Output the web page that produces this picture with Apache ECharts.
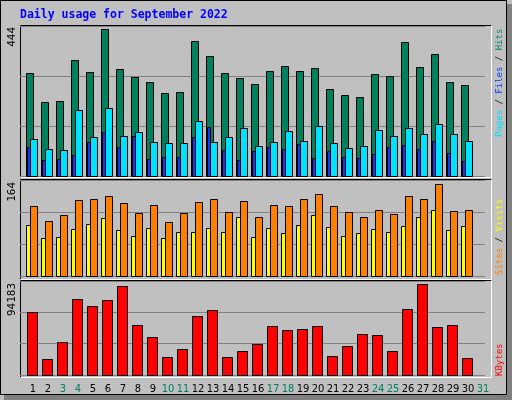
<!DOCTYPE html>
<html><head><meta charset="utf-8">
<script src="https://cdn.jsdelivr.net/npm/echarts@6/dist/echarts.min.js"></script>
<style>html,body{margin:0;padding:0;background:#c0c0c0}#c{width:512px;height:400px}</style>
</head><body><div id="c"></div>
<script>
const days = ['1','2','3','4','5','6','7','8','9','10','11','12','13','14','15','16','17','18','19','20','21','22','23','24','25','26','27','28','29','30','31'];
const weekend = ['3','4','10','11','17','18','24','25','31'];
const hits = [311,224,227,350,314,444,323,299,284,251,254,408,362,311,296,278,317,332,317,326,263,245,239,308,302,405,329,368,284,275];
const files = [112,82,79,199,118,205,121,133,103,100,100,166,103,118,145,91,103,136,106,151,100,85,91,139,121,145,127,157,127,106];
const pages = [88,48,52,63,103,133,88,121,51,57,57,118,148,79,48,76,88,82,97,54,76,57,54,66,88,94,82,106,69,45];
const sites = [91,68,69,84,93,103,82,71,86,68,78,78,86,78,105,69,86,77,91,109,87,71,77,84,78,89,105,118,82,89];
const visits = [125,98,109,135,137,143,130,112,127,96,112,132,137,114,134,105,127,125,137,146,125,114,105,118,110,143,137,164,116,118];
const kbytes = [65205,16560,34155,78660,71415,77625,92115,51750,39330,18630,26910,61065,67275,18630,24840,32085,50715,46575,47610,50715,19665,30015,42435,41400,24840,68310,94183,49680,51750,17595];
const maxLabels = ['444','164','94183'];

const pairs = a => a.map((v,i)=>[i,v]);
function bars(o0,o1,color){
  return function(params, api){
    const p = api.coord([api.value(0), api.value(1)]);
    const b = api.coord([api.value(0), 0]);
    return {type:'rect', shape:{x:Math.round(p[0]+o0)+0.5, y:Math.round(p[1])+0.5, width:o1-o0, height:Math.round(b[1]-p[1])},
      style:{fill:color, stroke:'#000', lineWidth:1}};
  };
}
const grids = [{left:20,width:465,top:26,height:150},{left:20,width:465,top:180,height:96},{left:20,width:465,top:281,height:94}];
const maxes = [453,171,97288];
const yAxes = maxes.map((m,i)=>({gridIndex:i,type:'value',min:0,max:m,interval:m/3,axisLabel:{show:false},axisLine:{show:false},axisTick:{show:false},splitLine:{show:true,lineStyle:{color:'#808080',width:1}}}));
const xAxes = [0,1,2].map(i=>({gridIndex:i,type:'category',data:days,boundaryGap:true,axisLine:{show:false},axisTick:{show:false},
  axisLabel:{show:i===2,interval:0,fontFamily:'DejaVu Sans',fontSize:10,margin:9,padding:[0,0,0,11],
    color:(v)=>weekend.includes(v)?'#008060':'#000'}}));
function ser(ax,data,o0,o1,color){return {type:'custom',xAxisIndex:ax,yAxisIndex:ax,data:pairs(data),encode:{x:0,y:1},renderItem:bars(o0,o1,color),silent:true};}

const graphic = [
  {type:'rect',shape:{x:0.5,y:0.5,width:506,height:394},style:{fill:'none',stroke:'#000',lineWidth:1}},
  {type:'rect',shape:{x:507,y:4,width:5,height:396},style:{fill:'#808080'}},
  {type:'rect',shape:{x:4,y:395,width:508,height:5},style:{fill:'#808080'}},
  {type:'text',x:20,y:9,style:{text:'Daily usage for September 2022',fill:'#0000ff',font:'bold 11.5px "DejaVu Sans Mono"'}},
];
[[25,177],[179,279],[280,377]].forEach(([t,b])=>{
  graphic.push({type:'polyline',shape:{points:[[20.5,b+0.5],[20.5,t+0.5],[491.5,t+0.5]]},style:{stroke:'#000',lineWidth:1,fill:'none'}});
  graphic.push({type:'polyline',shape:{points:[[491.5,t+0.5],[491.5,b+0.5],[20.5,b+0.5]]},style:{stroke:'#fff',lineWidth:1,fill:'none'}});
});
[[27,maxLabels[0]],[182,maxLabels[1]],[283,maxLabels[2]]].forEach(([y,t])=>{
  graphic.push({type:'text',x:7,y:y,rotation:Math.PI/2,style:{text:t,fill:'#000',font:'11px "DejaVu Sans Mono"',align:'right',verticalAlign:'top'}});
});
const rl = (y,parts)=>({type:'text',x:495,y:y,rotation:Math.PI/2,style:{rich:Object.fromEntries(parts.map((p,i)=>['r'+i,{fill:p[1],font:'9px "DejaVu Sans Mono"'}])),
  text:parts.map((p,i)=>'{r'+i+'|'+p[0]+'}').join(''),align:'left',verticalAlign:'top'}});
graphic.push(rl(137,[['Pages','#00e0ff'],[' / ','#000'],['Files','#0040ff'],[' / ','#000'],['Hits','#008060']]));
graphic.push(rl(275,[['Sites','#ff8000'],[' / ','#000'],['Visits','#ffff00']]));
graphic.push(rl(376,[['KBytes','#ff0000']]));

const chart = echarts.init(document.getElementById('c'));
chart.setOption({
  backgroundColor:'#c0c0c0', animation:false,
  grid:grids, xAxis:xAxes, yAxis:yAxes,
  series:[
    ser(0,hits,-2,5,'#00805c'),
    ser(0,pages,-0.5,2.5,'#0040ff'),
    ser(0,files,2,9,'#00e0ff'),
    ser(1,sites,-2,2,'#ffff00'),
    ser(1,visits,2,9,'#ff8000'),
    ser(2,kbytes,-1,9,'#ff0000')
  ],
  graphic:graphic
});
</script></body></html>
